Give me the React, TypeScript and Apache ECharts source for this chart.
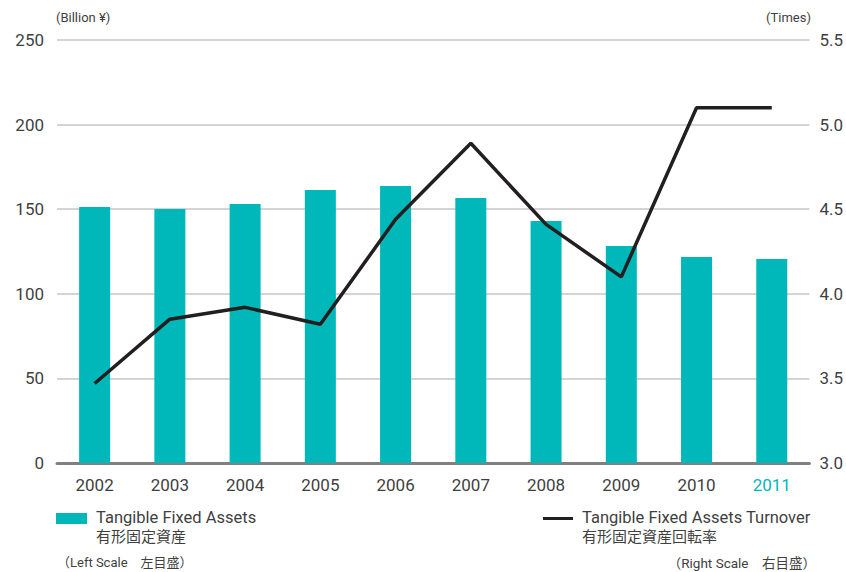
import React, { useEffect, useRef } from "react";
import * as echarts from "echarts";

const years = ["2002", "2003", "2004", "2005", "2006", "2007", "2008", "2009", "2010", "2011"];
const fixedAssets = [151.3, 150.1, 153.1, 161.3, 163.7, 156.6, 143.0, 128.2, 121.7, 120.6];
const turnover = [3.47, 3.85, 3.92, 3.82, 4.44, 4.89, 4.41, 4.10, 5.10, 5.10];
const leftTicks = { min: 0, max: 250, interval: 50 };
const rightTicks = { min: 3.0, max: 5.5, interval: 0.5 };

const TEAL = "#00b7b9";
const DARK = "#231f20";
const TEXT = "#3f3f3f";
const NUM = "'Roboto', sans-serif";
const SANS = "'Roboto', 'Noto Sans CJK JP', sans-serif";

export default function App() {
  const ref = useRef<HTMLDivElement>(null);
  useEffect(() => {
    if (!ref.current) return;
    const chart = echarts.init(ref.current, null, { renderer: "svg" });
    chart.setOption({
      animation: false,
      backgroundColor: "#ffffff",
      grid: { left: 57, right: 34, top: 40, bottom: 109, containLabel: false },
      xAxis: {
        type: "category",
        data: years,
        axisLine: { show: true, lineStyle: { color: "#808080", width: 3 } },
        axisTick: { show: false },
        axisLabel: {
          interval: 0,
          margin: 13,
          fontFamily: NUM,
          fontSize: 17,
          color: TEXT,
          formatter: (v: string) => (v === "2011" ? "{hl|" + v + "}" : v),
          rich: { hl: { color: TEAL, fontFamily: NUM, fontSize: 17 } },
        },
      },
      yAxis: [
        {
          type: "value",
          min: leftTicks.min,
          max: leftTicks.max,
          interval: leftTicks.interval,
          axisLine: { show: false },
          axisTick: { show: false },
          splitLine: { show: true, lineStyle: { color: "#d4d4d4", width: 2 } },
          axisLabel: { margin: 13, fontFamily: NUM, fontSize: 17, color: TEXT },
        },
        {
          type: "value",
          min: rightTicks.min,
          max: rightTicks.max,
          interval: rightTicks.interval,
          axisLine: { show: false },
          axisTick: { show: false },
          splitLine: { show: false },
          axisLabel: {
            margin: 10,
            fontFamily: NUM,
            fontSize: 17,
            color: TEXT,
            formatter: (v: number) => v.toFixed(1),
          },
        },
      ],
      series: [
        {
          name: "Tangible Fixed Assets",
          type: "bar",
          data: fixedAssets,
          barWidth: 31,
          itemStyle: { color: TEAL },
          yAxisIndex: 0,
          z: 2,
        },
        {
          name: "Tangible Fixed Assets Turnover",
          type: "line",
          data: turnover,
          yAxisIndex: 1,
          symbol: "none",
          lineStyle: { color: DARK, width: 3.5 },
          z: 3,
        },
      ],
      graphic: [
        { type: "text", left: 56, top: 11, style: { text: "(Billion ¥)", fontFamily: NUM, fontSize: 13, fill: TEXT } },
        { type: "text", right: 35, top: 11, style: { text: "(Times)", fontFamily: NUM, fontSize: 13, fill: TEXT } },
        { type: "rect", shape: { x: 56, y: 513, width: 31, height: 11 }, style: { fill: TEAL } },
        { type: "text", x: 96, y: 509, style: { text: "Tangible Fixed Assets", fontFamily: SANS, fontSize: 16.5, fill: TEXT } },
        { type: "text", x: 96, y: 529, style: { text: "有形固定資産", fontFamily: SANS, fontSize: 15, fill: TEXT } },
        { type: "text", x: 57, y: 556, style: { text: "（Left Scale　左目盛）", fontFamily: SANS, fontSize: 13, fill: TEXT } },
        { type: "line", shape: { x1: 543, y1: 518.5, x2: 573, y2: 518.5 }, style: { stroke: DARK, lineWidth: 3 } },
        { type: "text", x: 582, y: 509, style: { text: "Tangible Fixed Assets Turnover", fontFamily: SANS, fontSize: 16.5, fill: TEXT } },
        { type: "text", x: 582, y: 529, style: { text: "有形固定資産回転率", fontFamily: SANS, fontSize: 15, fill: TEXT } },
        { type: "text", right: 30, top: 556, style: { text: "（Right Scale　右目盛）", fontFamily: SANS, fontSize: 13.5, fill: TEXT } },
      ],
    });
    return () => chart.dispose();
  }, []);
  return <div ref={ref} style={{ width: 846, height: 572, position: "absolute", left: 0, top: 0 }} />;
}
